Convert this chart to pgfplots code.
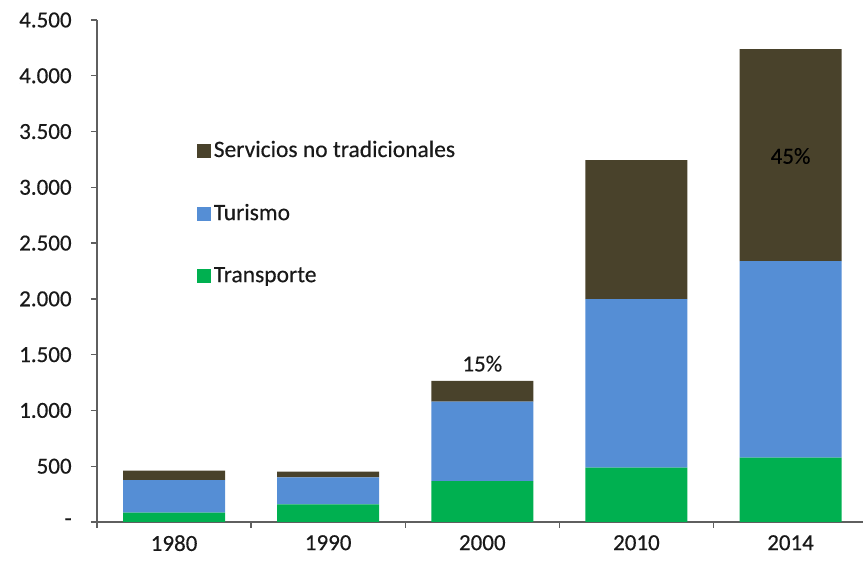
\documentclass[border=0pt]{standalone}
\usepackage{pgfplots}
\pgfplotsset{compat=1.18}
\usepackage{fontspec}
\setmainfont{Carlito}[FakeBold=0.4]
\definecolor{cserv}{RGB}{73,66,43}
\definecolor{ctur}{RGB}{85,142,213}
\definecolor{ctra}{RGB}{0,176,80}
\definecolor{caxis}{RGB}{95,95,95}
\definecolor{ctext}{RGB}{25,25,25}
\pgfplotsset{
  sqlegend/.style={legend image code/.code={\fill[##1,draw=none] (0pt,-7pt) rectangle (14pt,7pt);}}
}
\begin{document}
\fontsize{23}{27}\selectfont
\begin{tikzpicture}
\useasboundingbox (-97pt,-40pt) rectangle (766pt,522pt);
\begin{axis}[
  at={(0pt,0pt)}, anchor=south west,
  scale only axis, width=766pt, height=502pt,
  ybar stacked, bar width=102pt,
  xmin=-0.5, xmax=4.47, ymin=0, ymax=4500,
  axis x line*=bottom, axis y line*=left,
  axis line style={caxis, line width=1.3pt, -},
  xtick={0,1,2,3,4},
  xticklabels={1980,1990,2000,2010,2014},
  minor xtick={-0.5,0.5,1.5,2.5,3.5},
  major x tick style={draw=none},
  ytick={0,500,1000,1500,2000,2500,3000,3500,4000,4500},
  yticklabels={-\hspace{10pt},500,1.000,1.500,2.000,2.500,3.000,3.500,4.000,4.500},
  tick align=outside,
  major tick length=6pt, minor tick length=6pt,
  every tick/.style={caxis, line width=1.3pt},
  tick label style={font=\fontsize{23}{27}\selectfont, text=ctext},
  xticklabel style={yshift=-6pt, inner ysep=1pt},
  yticklabel style={xshift=-11.5pt},
  legend style={at={(0.130,0.76)}, anchor=north west, draw=none, fill=none,
    font=\fontsize{23.5}{27}\selectfont, text=ctext,
    row sep=43.5pt, inner sep=0pt,
    nodes={inner xsep=3pt, inner ysep=0pt}},
  legend cell align=left,
  reverse legend,
  clip=false,
]
\addplot[fill=ctra, draw=none, sqlegend] coordinates {(0,83) (1,159) (2,367) (3,487) (4,576)};
\addplot[fill=ctur, draw=none, sqlegend] coordinates {(0,293) (1,241) (2,711) (3,1511) (4,1763)};
\addplot[fill=cserv, draw=none, sqlegend] coordinates {(0,84) (1,51) (2,188) (3,1246) (4,1899)};
\legend{Transporte,Turismo,Servicios no tradicionales}
\coordinate (p15) at (axis cs:2,1350);
\coordinate (p45) at (axis cs:4,3281);
\end{axis}
\node[text=ctext, anchor=base] at (p15) {15\%};
\node[text=black] at (p45) {45\%};
\end{tikzpicture}
\end{document}
